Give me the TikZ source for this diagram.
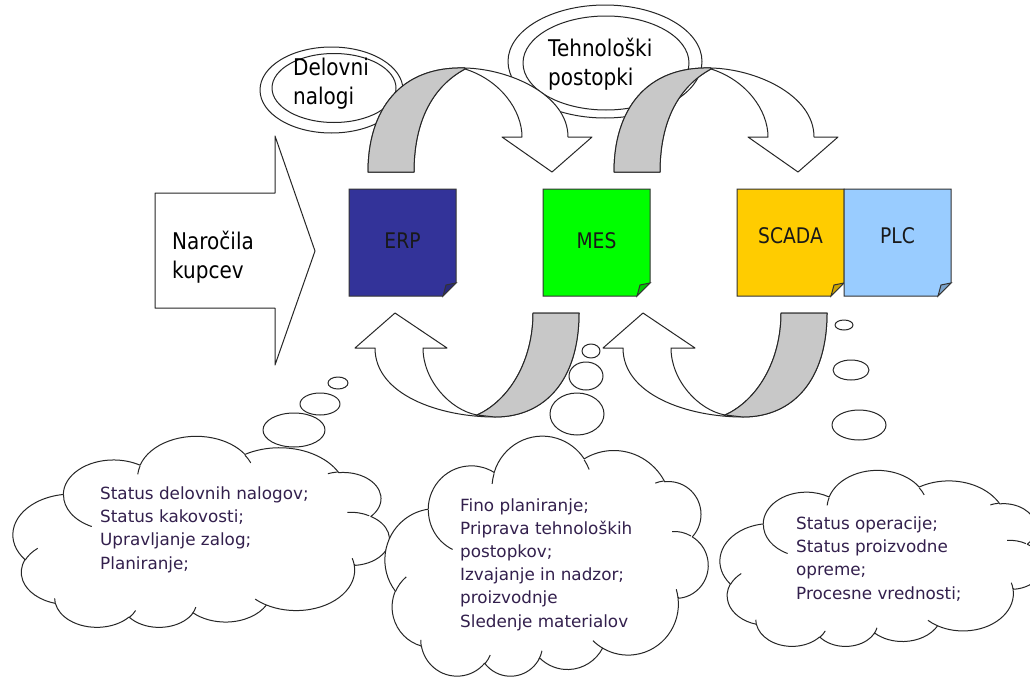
\documentclass[tikz,border=0pt]{standalone}
\usepackage{fontspec}
\setmainfont{DejaVu Sans}
\newfontfamily\narrowsans[FakeStretch=0.87]{DejaVu Sans}
\usetikzlibrary{calc}

\definecolor{erpblue}{HTML}{333399}
\definecolor{erpfold}{HTML}{29297A}
\definecolor{mesgreen}{HTML}{00FF00}
\definecolor{mesfold}{HTML}{00C800}
\definecolor{scadagold}{HTML}{FFCC00}
\definecolor{scadafold}{HTML}{CCA300}
\definecolor{plcblue}{HTML}{99CCFF}
\definecolor{plcfold}{HTML}{7AA3CC}
\definecolor{shadegray}{HTML}{C8C8C8}
\definecolor{cloudink}{HTML}{33204D}

% one elliptic arc of the cloud outline: radii, start angle, sweep (angles as seen on the ellipse)
\newcommand\cldarc[4]{arc[x radius=#1, y radius=#2,
  start angle={atan2(#1*sin(#3),#2*cos(#3))},
  delta angle={mod(atan2(#1*sin(#3+#4),#2*cos(#3+#4))-atan2(#1*sin(#3),#2*cos(#3))+720,360)}]}

% cloud outline in a 100 x 100 box
\newcommand\cloudoutline{(9.028,33.264)
  \cldarc{15.632}{21.273}{-190.4875}{123.7805}
  \cldarc{12.345}{16.822}{-144.1024}{89.9452}
  \cldarc{10.104}{13.762}{-145.8079}{99.7230}
  \cldarc{11.243}{15.266}{-130.9861}{117.2417}
  \cldarc{12.345}{16.836}{-78.7089}{109.0269}
  \cldarc{15.683}{21.343}{-46.2739}{130.2831}
  \cldarc{13.391}{18.211}{0.6250}{114.0333}
  \cldarc{15.630}{21.331}{22.4516}{115.1726}
  \cldarc{17.870}{24.405}{66.2426}{78.0336}
  \cldarc{10.093}{13.699}{-274.9421}{146.7356}
  \cldarc{10.058}{13.762}{-246.8285}{152.5189} -- cycle}

% the small inner creases of the cloud
\newcommand\cloudcreases{(10.863,60.595) \cldarc{10.058}{13.762}{86.7420}{26.4295}
  (16.037,80.785) \cldarc{10.093}{13.699}{73.6105}{11.4475}
  (38.144,90.486) \cldarc{15.630}{21.331}{137.6242}{14.0811}
  (66.729,80.442) \cldarc{15.630}{21.331}{6.4533}{15.9984}
  (79.002,53.134) \cldarc{13.391}{18.211}{-70.2924}{70.9174}
  (96.755,35.542) \cldarc{12.345}{16.836}{30.3180}{27.7515}
  (88.713,12.560) \cldarc{11.243}{15.266}{-13.7443}{14.8589}
  (67.310,9.148) \cldarc{11.243}{15.266}{-149.1815}{18.1954}
  (51.252,10.926) \cldarc{10.104}{13.762}{-163.4943}{19.0014}
  (32.407,12.019) \cldarc{15.632}{21.273}{-66.7070}{12.3194}
  (9.553,36.549) \cldarc{15.632}{21.273}{157.6544}{11.8582}}

% sticky-note box with a folded lower right corner
\newcommand\notebox[5]{%
  \path (#2,#3) coordinate (#1-nw) ++(107,0) coordinate (#1-ne)
        ++(0,107) coordinate (#1-se) ++(-107,0) coordinate (#1-sw);
  \draw[boxline, fill=#4] (#1-nw) -- (#1-ne) -- ($(#1-se)+(0,-13)$)
        -- ($(#1-se)+(-13,0)$) -- (#1-sw) -- cycle;
  \draw[boxline, fill=#5] ($(#1-se)+(0,-13)$) -- ($(#1-se)+(-10,-11)$)
        -- ($(#1-se)+(-13,0)$) -- cycle;}

\tikzset{
  outline/.style={draw=black!85, line width=1pt, line join=round},
  arrowbody/.style={outline, fill=white},
  shadeband/.style={outline, fill=shadegray},
  boxline/.style={draw=black!80, line width=1pt},
  bubble/.style={outline, fill=white},
  toplabel/.style={font=\narrowsans\fontsize{23}{28.5}\selectfont, align=left,
    inner sep=0pt, anchor=base west},
  boxtext/.style={font=\narrowsans\fontsize{21.5}{26}\selectfont, inner sep=0pt,
    anchor=base, text=black!90},
  cloudtext/.style={font=\fontsize{16.8}{23.2}\selectfont, align=left,
    inner sep=0pt, anchor=base west, text=cloudink}
}

\begin{document}
\begin{tikzpicture}[x=1pt, y=-1pt]
\useasboundingbox (0,0) rectangle (1030,680);
\fill[white] (0,0) rectangle (1030,680);

% labels in double ellipses (text anchored at the baseline of the last line)
\draw[outline, fill=white] (331.5,90) ellipse [x radius=71.5, y radius=43];
\draw[outline] (334,88) ellipse [x radius=62, y radius=34.5];
\draw[outline, fill=white] (605,61.5) ellipse [x radius=97, y radius=56.5];
\draw[outline] (606,63) ellipse [x radius=83, y radius=47];
\node[toplabel] (worklbl) at (293,104) {Delovni\\nalogi};
\node[toplabel] (techlbl) at (548,85) {Tehnološki\\postopki};

% incoming customer orders
\draw[arrowbody] (155,193) -- (275,193) -- (275,136) -- (315,251) -- (275,365)
  -- (275,308) -- (155,308) -- cycle;
\node[toplabel] (orders) at (172,278) {Naročila\\kupcev};

% curved arrows over the top
\foreach \dx in {0,246}{
\begin{scope}[shift={(\dx,0)}]
  \draw[arrowbody] (368,172) .. controls (368,110) and (400,66) .. (465,68)
    .. controls (510,69) and (568,95) .. (568,137) -- (592,137) -- (552,172)
    -- (502,137) -- (522,137) .. controls (522,110) and (500,80) .. (465,69)
    .. controls (430,88) and (414,125) .. (414,172) -- cycle;
  \draw[shadeband] (368,172) .. controls (368,110) and (400,66) .. (465,68)
    -- (465,69) .. controls (430,88) and (414,125) .. (414,172) -- cycle;
\end{scope}}

% curved arrows underneath
\foreach \dx in {0,248}{
\begin{scope}[shift={(\dx,0)}]
  \draw[arrowbody] (579,313) .. controls (579,380) and (545,417) .. (495,417)
    .. controls (440,417) and (375,395) .. (375,348) -- (355,348) -- (395,313)
    -- (447,348) -- (423,348) .. controls (423,380) and (450,410) .. (477,415)
    .. controls (510,400) and (533,360) .. (533,313) -- cycle;
  \draw[shadeband] (533,313) -- (579,313) .. controls (579,380) and (545,417) .. (495,417)
    -- (477,415) .. controls (510,400) and (533,360) .. (533,313) -- cycle;
\end{scope}}

% system boxes
\notebox{erpbox}{349}{189}{erpblue}{erpfold}
\notebox{mesbox}{543}{189}{mesgreen}{mesfold}
\notebox{scadabox}{737}{189}{scadagold}{scadafold}
\notebox{plcbox}{844}{189}{plcblue}{plcfold}
\node[boxtext] (erp) at (402.5,248) {ERP};
\node[boxtext] (mes) at (596.5,248) {MES};
\node[boxtext] (scada) at (790.5,243) {SCADA};
\node[boxtext] (plc) at (897.5,243) {PLC};

% thought bubbles
\draw[bubble] (338,383) ellipse [x radius=10, y radius=6];
\draw[bubble] (320,404) ellipse [x radius=20, y radius=11];
\draw[bubble] (294,430) ellipse [x radius=31, y radius=17];
\draw[bubble] (591,351) ellipse [x radius=9, y radius=7];
\draw[bubble] (586,376) ellipse [x radius=17, y radius=14];
\draw[bubble] (577,414) ellipse [x radius=27, y radius=21];
\draw[bubble] (844,325) ellipse [x radius=9, y radius=5];
\draw[bubble] (851,370) ellipse [x radius=18, y radius=10];
\draw[bubble] (859,425) ellipse [x radius=27, y radius=15];

% clouds
\begin{scope}[shift={(388,628)}, x={(-3.75pt,0pt)}, y={(0pt,1.91pt)}]
  \draw[outline, fill=white] \cloudoutline;
  \draw[outline] \cloudcreases;
\end{scope}
\begin{scope}[shift={(707,677)}, x={(-3.22pt,0pt)}, y={(0pt,2.40pt)}]
  \draw[outline, fill=white] \cloudoutline;
  \draw[outline] \cloudcreases;
\end{scope}
\begin{scope}[shift={(1042,647)}, x={(-3.22pt,0pt)}, y={(0pt,1.76pt)}]
  \draw[outline, fill=white] \cloudoutline;
  \draw[outline] \cloudcreases;
\end{scope}

\node[cloudtext] (erpinfo) at (100,569)
  {Status delovnih nalogov;\\Status kakovosti;\\Upravljanje zalog;\\Planiranje;};
\node[cloudtext] (mesinfo) at (460,627)
  {Fino planiranje;\\Priprava tehnoloških\\postopkov;\\Izvajanje in nadzor;\\proizvodnje\\Sledenje materialov};
\node[cloudtext] (scadainfo) at (796,599)
  {Status operacije;\\Status proizvodne\\opreme;\\Procesne vrednosti;};
\end{tikzpicture}
\end{document}
